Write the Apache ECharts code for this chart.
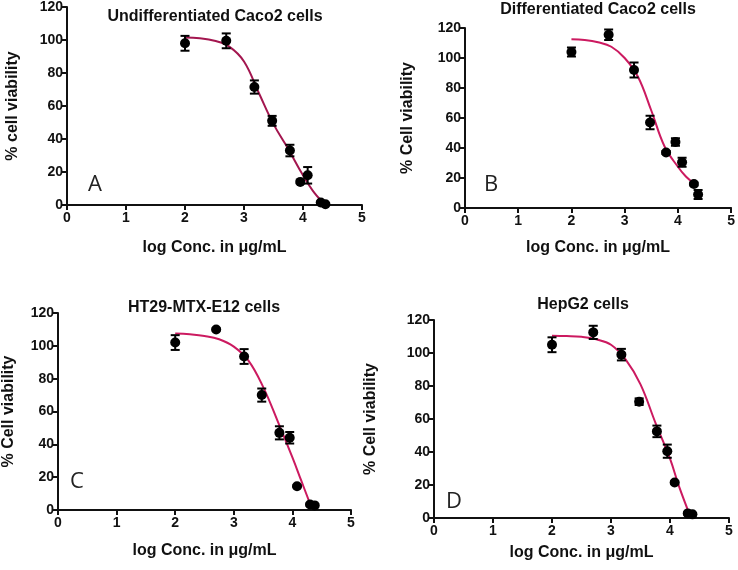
<!DOCTYPE html>
<html>
<head>
<meta charset="utf-8">
<script src="https://cdn.jsdelivr.net/npm/echarts@6/dist/echarts.min.js"></script>
<style>html,body{margin:0;padding:0;background:#fff;}#c{width:738px;height:570px;}</style>
</head>
<body>
<div id="c"></div>
<script>
// ---- data ----
const panelTitles = ['Undifferentiated Caco2 cells', 'Differentiated Caco2 cells', 'HT29-MTX-E12 cells', 'HepG2 cells'];
const panelLetters = ['A', 'B', 'C', 'D'];
const yAxisNames = ['% cell viability', '% Cell viability', '% Cell viability', '% Cell viability'];
const xAxisName = 'log Conc. in \u03bcg/mL';
const xTicks = [0, 1, 2, 3, 4, 5];
const yTicks = [0, 20, 40, 60, 80, 100, 120];

const logConc = [2.0, 2.699, 3.176, 3.477, 3.778, 3.954, 4.079, 4.301, 4.380];

const meanA = [98, 99.5, 71.5, 51, 33, 14, 18, 1.5, 0.5];
const errA  = [4.5, 4.5, 4, 3, 3.5, 0.8, 5, 0.5, 0.5];
const meanB = [104, 115.5, 92, 57, 37, 44, 30.5, 16, 9];
const errB  = [3, 3.5, 5, 4.5, 1, 2.5, 3, 1, 3];
const meanC = [102, 110, 93.5, 70, 47, 44, 14.5, 3.3, 2.8];
const errC  = [4.5, 0.5, 4.5, 4, 4, 3.5, 0.5, 0.5, 0.5];
const meanD = [105, 112.5, 99, 70.5, 52.5, 40.5, 21.5, 2.8, 2.2];
const errD  = [4.5, 4, 3.5, 2, 3.5, 4, 0.5, 0.5, 0.5];

// fitted curves
const fitXA = [2.0, 2.25, 2.5, 2.75, 3.0, 3.25, 3.5, 3.75, 4.0, 4.2, 4.38];
const fitYA = [101.5, 101, 99.5, 96, 87, 68, 49, 34, 18, 7, 0.3];
const fitXB = [2.0, 2.25, 2.5, 2.75, 3.0, 3.25, 3.5, 3.75, 4.0, 4.15, 4.3];
const fitYB = [112.5, 112, 110.5, 107.5, 100, 87.5, 65, 41, 27.5, 21, 16.5];
const fitXC = [2.0, 2.25, 2.5, 2.75, 3.0, 3.25, 3.5, 3.75, 4.0, 4.15, 4.32];
const fitYC = [107.5, 107, 106, 104, 99.5, 91, 75, 54, 32, 18, 2];
const fitXD = [2.0, 2.25, 2.5, 2.75, 3.0, 3.25, 3.5, 3.75, 4.0, 4.15, 4.34];
const fitYD = [110.5, 110.3, 109.8, 108.3, 105, 96, 81, 58, 36, 19.5, 1.4];

// ---- layout / style ----
const FONT = "'Liberation Sans', Arial, sans-serif";
const grids = [
  {left: 67, top: 7, width: 295, height: 198},
  {left: 465, top: 28, width: 268, height: 180},
  {left: 57, top: 313, width: 294, height: 197},
  {left: 434, top: 320, width: 295, height: 198}
];
const yNameGap = [46, 49, 41, 55];
const xNameGap = [35, 32, 33, 27];
const titlePos = [[215, 9], [598, 2], [204, 300], [583, 297]];
const letterPos = [[88, 174], [484, 174], [70, 471], [446, 491]];
const curveColors = ['#a3164f', '#cc1a60', '#cc1a60', '#cc1a60'];

const means = [meanA, meanB, meanC, meanD];
const errs = [errA, errB, errC, errD];
const fitX = [fitXA, fitXB, fitXC, fitXD];
const fitY = [fitYA, fitYB, fitYC, fitYD];

const titles = [];
panelTitles.forEach((t, i) => {
  titles.push({text: t, left: titlePos[i][0], top: titlePos[i][1], textAlign: 'center', padding: 0,
    textStyle: {fontFamily: FONT, fontWeight: 'bold', fontSize: 16, color: '#111'}});
  titles.push({text: panelLetters[i], left: letterPos[i][0], top: letterPos[i][1], padding: 0,
    textStyle: {fontFamily: "'Open Sans', 'Noto Sans', sans-serif", fontWeight: 'normal', fontSize: 22, color: '#222'}});
});

const axisLine = {show: true, onZero: false, lineStyle: {color: '#111', width: 2}};
const axisTick = {show: true, length: 5, lineStyle: {color: '#111', width: 2}};
const axisLabel = {fontFamily: FONT, fontWeight: 'bold', fontSize: 14, color: '#111'};

const xAxes = grids.map((g, i) => ({
  type: 'value', gridIndex: i, min: xTicks[0], max: xTicks[xTicks.length - 1], interval: 1,
  axisLine, axisTick, axisLabel: Object.assign({margin: 6}, axisLabel), splitLine: {show: false},
  name: xAxisName, nameLocation: 'middle', nameGap: xNameGap[i],
  nameTextStyle: {fontFamily: FONT, fontWeight: 'bold', fontSize: 16, color: '#111'}
}));
const yAxes = grids.map((g, i) => ({
  type: 'value', gridIndex: i, min: yTicks[0], max: yTicks[yTicks.length - 1], interval: 20,
  axisLine, axisTick, axisLabel: Object.assign({margin: 4}, axisLabel), splitLine: {show: false},
  name: yAxisNames[i], nameLocation: 'middle', nameGap: yNameGap[i], nameRotate: 90,
  nameTextStyle: {fontFamily: FONT, fontWeight: 'bold', fontSize: 16, color: '#111'}
}));

function errorRender(params, api) {
  const x = api.value(0), lo = api.value(1), hi = api.value(2);
  const p1 = api.coord([x, lo]), p2 = api.coord([x, hi]);
  const cap = 4.5;
  const style = {stroke: '#000', lineWidth: 2};
  return {type: 'group', children: [
    {type: 'line', shape: {x1: p1[0], y1: p1[1], x2: p2[0], y2: p2[1]}, style},
    {type: 'line', shape: {x1: p1[0] - cap, y1: p1[1], x2: p1[0] + cap, y2: p1[1]}, style},
    {type: 'line', shape: {x1: p2[0] - cap, y1: p2[1], x2: p2[0] + cap, y2: p2[1]}, style}
  ]};
}

const series = [];
for (let i = 0; i < 4; i++) {
  series.push({type: 'line', xAxisIndex: i, yAxisIndex: i, smooth: 0.4, showSymbol: false, silent: true,
    data: fitX[i].map((x, k) => [x, fitY[i][k]]),
    lineStyle: {color: curveColors[i], width: 2}, z: 2});
  series.push({type: 'custom', xAxisIndex: i, yAxisIndex: i, renderItem: errorRender,
    data: logConc.map((x, k) => [x, means[i][k] - errs[i][k], means[i][k] + errs[i][k]]),
    encode: {x: 0, y: [1, 2]}, z: 3});
  series.push({type: 'scatter', xAxisIndex: i, yAxisIndex: i, symbol: 'circle', symbolSize: 10,
    data: logConc.map((x, k) => [x, means[i][k]]),
    itemStyle: {color: '#000', opacity: 1}, z: 4});
}

const chart = echarts.init(document.getElementById('c'), null, {renderer: 'canvas'});
chart.setOption({
  animation: false,
  backgroundColor: '#fff',
  title: titles,
  grid: grids,
  xAxis: xAxes,
  yAxis: yAxes,
  series
});
</script>
</body>
</html>
